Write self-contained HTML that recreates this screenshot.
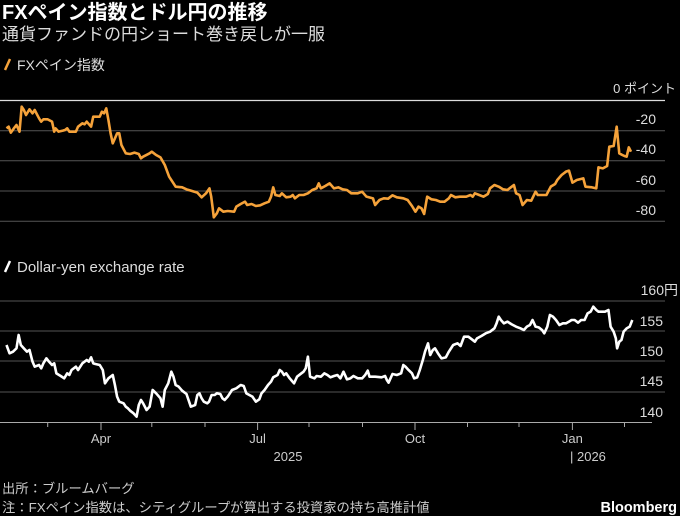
<!DOCTYPE html>
<html><head><meta charset="utf-8"><style>
body{margin:0;background:#000;width:680px;height:516px;overflow:hidden;font-family:"Liberation Sans","Noto Sans CJK JP",sans-serif;color:#fff}
svg{position:absolute;left:0;top:0}
</style></head><body>
<svg width="680" height="516" viewBox="0 0 680 516" font-family="Liberation Sans, Noto Sans CJK JP, sans-serif">
<text x="2" y="19" font-size="20" font-weight="bold" fill="#fff">FXペイン指数とドル円の推移</text>
<text x="2" y="40" font-size="17" fill="#ddd">通貨ファンドの円ショート巻き戻しが一服</text>
<line x1="5" y1="70" x2="10" y2="59" stroke="#f5a23a" stroke-width="2.5"/>
<text x="17" y="70" font-size="14" fill="#ddd">FXペイン指数</text>
<text x="676" y="93" font-size="13" fill="#ddd" text-anchor="end">0 ポイント</text>
<line x1="0" y1="100.5" x2="665" y2="100.5" stroke="#ddd" stroke-width="1.2"/>
<g stroke="#555" stroke-width="1">
<line x1="0" y1="130.7" x2="665" y2="130.7"/><line x1="0" y1="160.7" x2="665" y2="160.7"/><line x1="0" y1="191" x2="665" y2="191"/><line x1="0" y1="221.3" x2="665" y2="221.3"/>
<line x1="0" y1="301" x2="665" y2="301"/><line x1="0" y1="331" x2="665" y2="331"/><line x1="0" y1="361" x2="665" y2="361"/><line x1="0" y1="392" x2="665" y2="392"/>
</g>
<line x1="0" y1="422.5" x2="652" y2="422.5" stroke="#aaa" stroke-width="1"/>
<g font-size="14" fill="#ddd" text-anchor="end">
<text x="656" y="124">-20</text><text x="656" y="154">-40</text><text x="656" y="185">-60</text><text x="656" y="215">-80</text>
<text x="678" y="295">160円</text><text x="663" y="326">155</text><text x="663" y="356">150</text><text x="663" y="386">145</text><text x="663" y="417">140</text>
</g>
<line x1="5" y1="272" x2="10" y2="261" stroke="#fff" stroke-width="2.5"/>
<text x="17" y="272" font-size="15" fill="#ddd">Dollar-yen exchange rate</text>
<g stroke="#aaa" stroke-width="1">
<line x1="47.7" y1="422" x2="47.7" y2="427"/><line x1="101" y1="422" x2="101" y2="430"/><line x1="151.8" y1="422" x2="151.8" y2="427"/><line x1="205" y1="422" x2="205" y2="427"/><line x1="257.6" y1="422" x2="257.6" y2="430"/><line x1="309" y1="422" x2="309" y2="427"/><line x1="362.5" y1="422" x2="362.5" y2="427"/><line x1="415" y1="422" x2="415" y2="430"/><line x1="467.5" y1="422" x2="467.5" y2="427"/><line x1="519" y1="422" x2="519" y2="427"/><line x1="572.4" y1="422" x2="572.4" y2="430"/><line x1="624.5" y1="422" x2="624.5" y2="427"/>
</g>
<g font-size="13" fill="#ccc" text-anchor="middle">
<text x="101" y="443">Apr</text><text x="257.6" y="443">Jul</text><text x="415" y="443">Oct</text><text x="572.4" y="443">Jan</text>
<text x="288" y="461">2025</text><text x="570" y="461" text-anchor="start">|  2026</text>
</g>
<g transform="translate(0,80) scale(0.43367,0.33333)">
<polyline fill="none" stroke="#f5a23a" stroke-width="2.6" vector-effect="non-scaling-stroke" stroke-linejoin="round" points="15,145 20,140 25,158 32,145 38,135 45,155 50,80 55,90 60,105 68,88 75,100 80,90 90,115 95,125 100,118 110,118 120,125 125,155 128,145 135,155 145,152 150,150 155,145 160,155 175,155 180,140 190,130 195,133 200,125 210,140 215,110 230,110 235,95 240,100 245,85 250,120 255,160 260,190 265,175 270,160 275,160 280,195 290,220 300,222 310,218 320,222 325,235 330,230 345,220 350,215 360,225 370,232 380,255 390,290 400,310 405,320 420,322 430,328 440,332 455,338 465,352 475,340 483,325 487,350 490,380 493,412 500,400 505,385 515,395 525,393 540,395 545,380 555,372 565,365 570,375 580,372 590,378 600,376 610,370 620,365 625,350 630,322 635,345 645,348 650,340 660,352 670,350 675,345 680,355 690,345 700,345 710,340 720,330 730,325 735,310 740,325 750,318 760,310 770,325 780,322 790,328 800,330 810,340 825,340 835,335 845,350 860,355 865,375 875,360 885,355 895,356 905,346 915,352 930,355 940,360 950,378 958,395 965,380 972,385 978,402 985,350 995,358 1005,360 1015,365 1025,365 1035,355 1040,345 1050,352 1060,350 1075,350 1085,345 1090,350 1095,340 1105,345 1115,350 1125,342 1130,325 1140,315 1150,320 1160,328 1170,330 1180,320 1185,315 1190,340 1198,345 1205,375 1215,360 1225,362 1235,335 1240,345 1260,345 1270,320 1280,312 1285,300 1295,285 1305,275 1312,272 1320,308 1330,300 1345,295 1350,320 1365,322 1375,325 1380,262 1390,265 1400,258 1405,200 1415,198 1422,140 1428,220 1435,225 1440,228 1445,230 1450,202 1455,215"/>
</g>
<g transform="translate(0,270) scale(0.43367,0.33333)">
<polyline fill="none" stroke="#fff" stroke-width="2.6" vector-effect="non-scaling-stroke" stroke-linejoin="round" points="15,225 22,250 30,245 38,235 43,195 48,225 55,235 62,245 68,240 75,275 80,290 90,285 95,295 100,280 107,265 113,275 120,285 125,280 130,310 140,318 148,325 155,310 160,315 165,300 175,290 180,300 190,280 200,270 205,275 210,262 215,280 220,282 230,285 237,300 242,340 250,325 255,320 260,315 265,345 270,380 275,395 285,400 290,410 295,415 300,422 308,430 315,440 320,405 325,390 330,400 338,420 345,410 352,360 360,370 370,385 375,410 380,360 388,340 395,305 400,320 405,345 412,350 420,362 430,372 440,410 450,405 455,375 460,370 465,385 470,395 478,400 482,395 488,375 495,375 500,370 508,372 513,385 518,390 525,380 535,360 545,355 555,345 562,348 568,370 575,375 582,380 590,395 598,388 603,370 610,360 618,345 625,335 630,322 640,315 645,300 650,305 655,315 660,310 668,325 678,340 685,320 695,310 700,305 705,295 710,260 715,320 725,325 730,318 740,320 748,310 755,315 762,322 770,318 778,315 785,325 792,305 800,328 808,325 815,318 825,325 835,325 842,315 848,302 852,320 865,320 880,322 888,318 892,330 896,338 905,312 915,315 925,310 930,285 935,290 942,300 950,310 955,325 962,322 968,300 975,270 980,245 987,220 992,255 998,240 1003,235 1010,250 1018,265 1028,262 1035,245 1045,225 1055,220 1062,228 1070,200 1080,200 1088,208 1095,215 1100,205 1110,198 1120,190 1130,185 1140,175 1145,160 1150,140 1155,150 1162,160 1170,155 1180,163 1190,170 1200,175 1208,180 1215,170 1222,165 1228,150 1235,170 1242,172 1250,180 1255,190 1262,170 1268,135 1275,140 1282,150 1290,165 1298,160 1305,160 1312,155 1318,150 1325,150 1333,158 1340,150 1348,150 1355,130 1362,125 1368,110 1375,120 1380,125 1395,125 1403,120 1408,170 1415,185 1420,205 1423,235 1428,215 1433,210 1438,185 1445,175 1452,170 1458,150"/>
</g>
<text x="2" y="493" font-size="13.3" fill="#ccc">出所：ブルームバーグ</text>
<text x="2" y="512" font-size="13.3" fill="#ccc">注：FXペイン指数は、シティグループが算出する投資家の持ち高推計値</text>
<text x="677" y="512" font-size="14.5" font-weight="bold" fill="#fff" text-anchor="end">Bloomberg</text>
</svg>
</body></html>
